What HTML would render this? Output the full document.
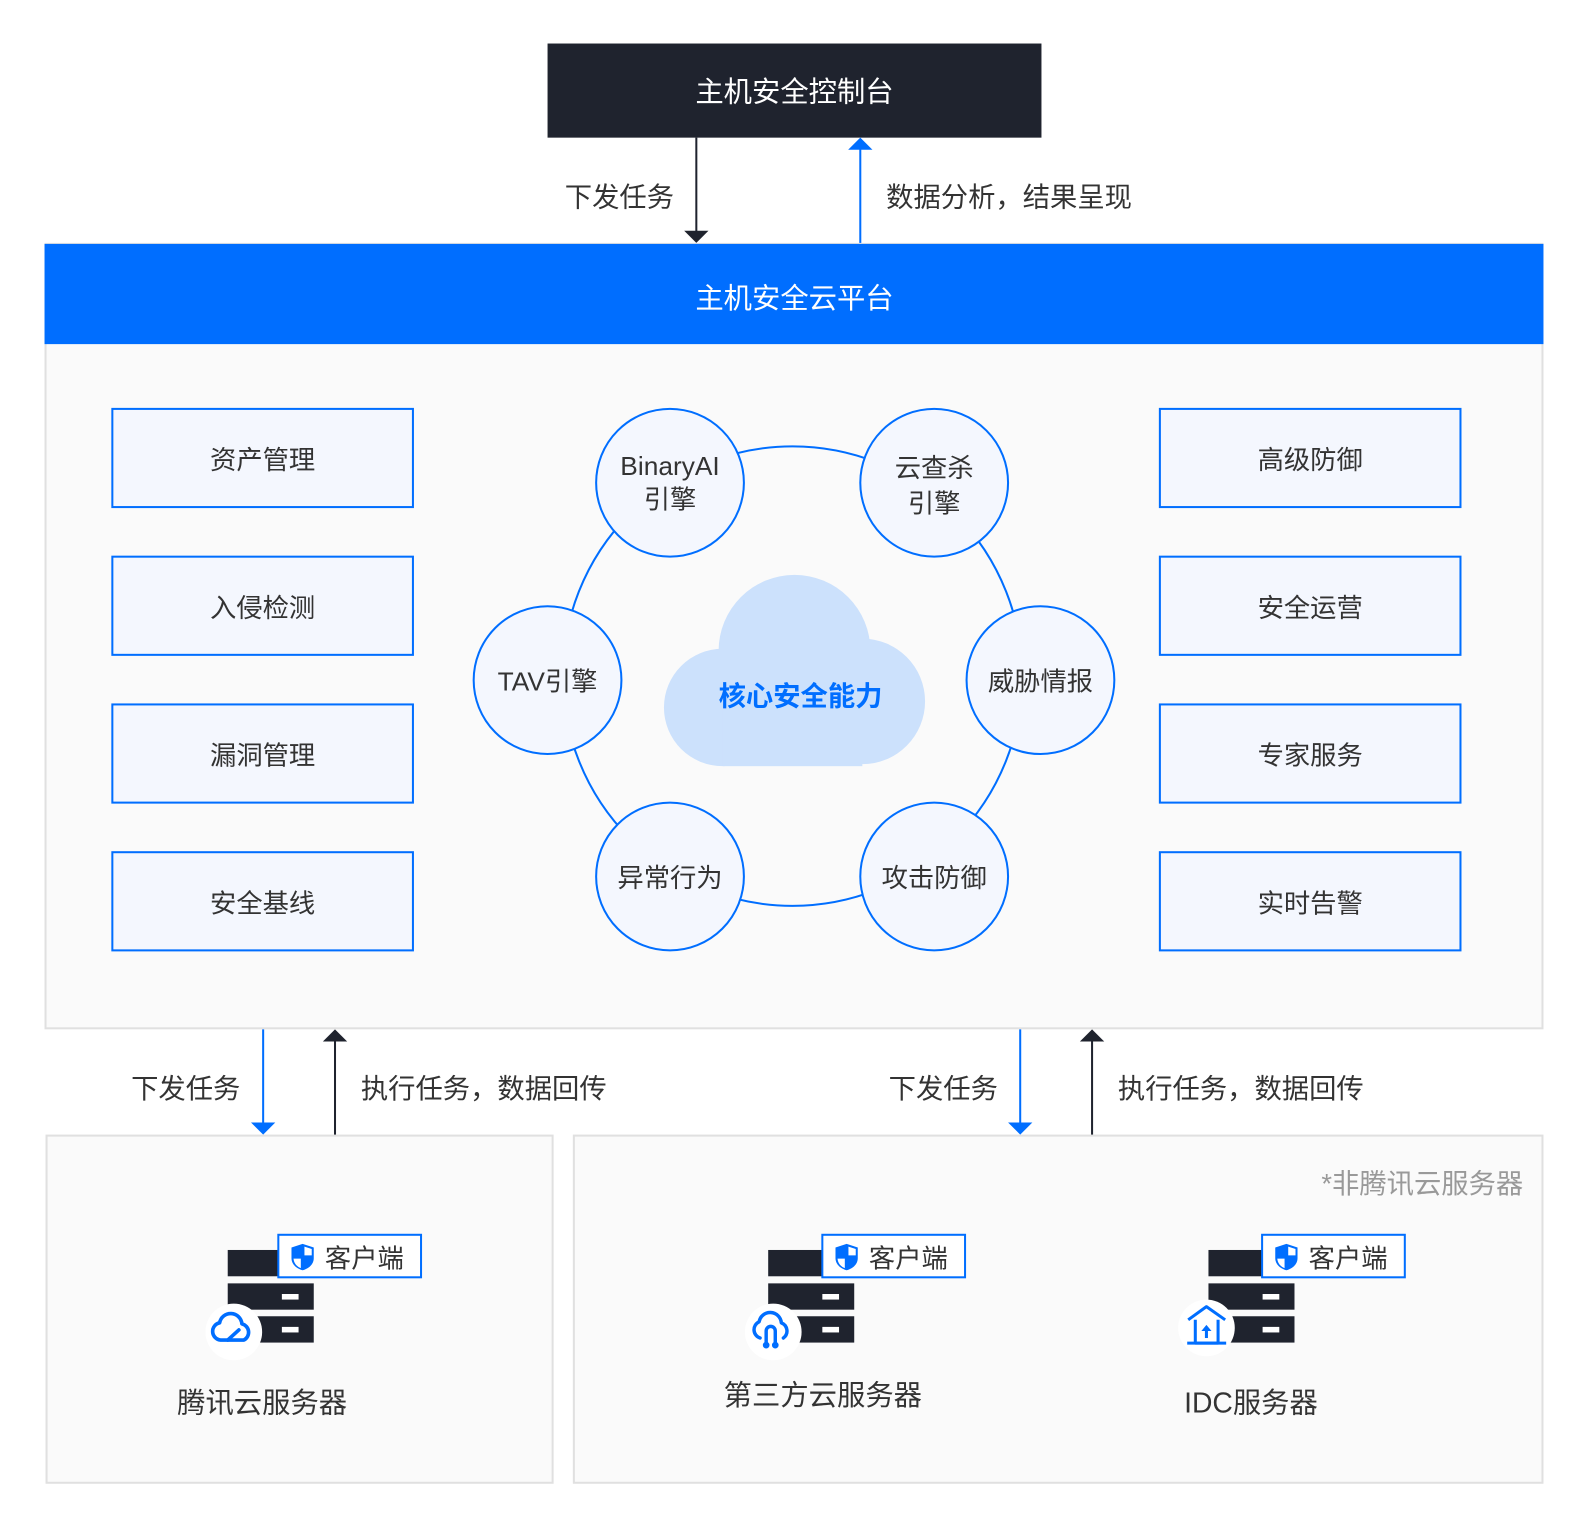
<!DOCTYPE html>
<html>
<head>
<meta charset="utf-8">
<style>
html,body{margin:0;padding:0;background:#fff;}
svg{display:block;}
text{font-family:"Liberation Sans","Noto Sans CJK SC",sans-serif;transform:translateY(1.5px);}
</style>
</head>
<body>
<svg width="1588" height="1528" viewBox="0 0 1569 1509.7" preserveAspectRatio="none" xmlns="http://www.w3.org/2000/svg">
<defs>
  <g id="shield">
    <path d="M0,-13 L11,-9.5 V1 C11,7.5 5.5,11.5 0,13 C-5.5,11.5 -11,7.5 -11,1 V-9.5 Z" fill="#006eff"/>
    <path d="M1.8,-10.3 L9,-7.9 V-1.6 H1.8 Z" fill="#fff"/>
    <path d="M-1.8,1.6 H-9 C-8.6,6.5 -5.5,9.6 -1.8,10.9 Z" fill="#fff"/>
  </g>
</defs>

<!-- top console -->
<rect x="541" y="43" width="488" height="93" fill="#1f232e"/>
<text x="785" y="90" font-size="28" fill="#fff" text-anchor="middle" dominant-baseline="central">主机安全控制台</text>

<!-- top arrows -->
<line x1="688" y1="136" x2="688" y2="229" stroke="#1f232e" stroke-width="2"/>
<polygon points="676,228 700,228 688,240" fill="#1f232e"/>
<line x1="850" y1="147" x2="850" y2="241" stroke="#006eff" stroke-width="2"/>
<polygon points="838,148 862,148 850,136" fill="#006eff"/>
<text x="612" y="193" font-size="27" fill="#333" text-anchor="middle" dominant-baseline="central">下发任务</text>
<text x="997" y="193" font-size="27" fill="#333" text-anchor="middle" dominant-baseline="central">数据分析，结果呈现</text>

<!-- platform -->
<rect x="45" y="241" width="1479" height="775" fill="#fafafa" stroke="#e0e0e0" stroke-width="2"/>
<rect x="44" y="241" width="1481" height="99" fill="#006eff"/>
<text x="785" y="294" font-size="28" fill="#fff" text-anchor="middle" dominant-baseline="central">主机安全云平台</text>

<!-- side boxes -->
<g fill="#f4f7fe" stroke="#006eff" stroke-width="2">
  <rect x="111" y="404" width="297" height="97"/>
  <rect x="111" y="550" width="297" height="97"/>
  <rect x="111" y="696" width="297" height="97"/>
  <rect x="111" y="842" width="297" height="97"/>
  <rect x="1146" y="404" width="297" height="97"/>
  <rect x="1146" y="550" width="297" height="97"/>
  <rect x="1146" y="696" width="297" height="97"/>
  <rect x="1146" y="842" width="297" height="97"/>
</g>
<g font-size="26" fill="#333" text-anchor="middle" dominant-baseline="central">
  <text x="259.5" y="453">资产管理</text>
  <text x="259.5" y="599">入侵检测</text>
  <text x="259.5" y="745">漏洞管理</text>
  <text x="259.5" y="891">安全基线</text>
  <text x="1294.5" y="453">高级防御</text>
  <text x="1294.5" y="599">安全运营</text>
  <text x="1294.5" y="745">专家服务</text>
  <text x="1294.5" y="891">实时告警</text>
</g>

<!-- ring -->
<circle cx="783" cy="668" r="227" fill="none" stroke="#006eff" stroke-width="2"/>

<!-- cloud -->
<g fill="#cce1fc">
  <circle cx="714" cy="699" r="58"/>
  <circle cx="785" cy="643" r="75"/>
  <circle cx="852" cy="693" r="62"/>
  <rect x="714" y="690" width="138" height="67"/>
</g>
<text x="791" y="686" font-size="27" font-weight="bold" fill="#006eff" text-anchor="middle" dominant-baseline="central">核心安全能力</text>

<!-- small circles -->
<g fill="#f4f7fe" stroke="#006eff" stroke-width="2">
  <circle cx="662" cy="477" r="73"/>
  <circle cx="923" cy="477" r="73"/>
  <circle cx="541" cy="672" r="73"/>
  <circle cx="1028" cy="672" r="73"/>
  <circle cx="662" cy="866" r="73"/>
  <circle cx="923" cy="866" r="73"/>
</g>
<g font-size="26" fill="#333" text-anchor="middle" dominant-baseline="central">
  <text x="662" y="459">BinaryAI</text>
  <text x="662" y="492">引擎</text>
  <text x="923" y="461">云查杀</text>
  <text x="923" y="496">引擎</text>
  <text x="541" y="672">TAV引擎</text>
  <text x="1028" y="672">威胁情报</text>
  <text x="662" y="866">异常行为</text>
  <text x="923" y="866">攻击防御</text>
</g>

<!-- bottom arrows -->
<line x1="260" y1="1017" x2="260" y2="1110" stroke="#006eff" stroke-width="2"/>
<polygon points="248,1109 272,1109 260,1121" fill="#006eff"/>
<line x1="331" y1="1028" x2="331" y2="1122" stroke="#1f232e" stroke-width="2"/>
<polygon points="319,1029 343,1029 331,1017" fill="#1f232e"/>
<line x1="1008" y1="1017" x2="1008" y2="1110" stroke="#006eff" stroke-width="2"/>
<polygon points="996,1109 1020,1109 1008,1121" fill="#006eff"/>
<line x1="1079" y1="1028" x2="1079" y2="1122" stroke="#1f232e" stroke-width="2"/>
<polygon points="1067,1029 1091,1029 1079,1017" fill="#1f232e"/>
<g font-size="27" fill="#333" text-anchor="middle" dominant-baseline="central">
  <text x="183.5" y="1074">下发任务</text>
  <text x="478" y="1074">执行任务，数据回传</text>
  <text x="932" y="1074">下发任务</text>
  <text x="1226" y="1074">执行任务，数据回传</text>
</g>

<!-- bottom boxes -->
<rect x="46" y="1122" width="500" height="343" fill="#fafafa" stroke="#e0e0e0" stroke-width="2"/>
<rect x="567" y="1122" width="957" height="343" fill="#fafafa" stroke="#e0e0e0" stroke-width="2"/>
<text x="1505" y="1168" font-size="27" fill="#999" text-anchor="end" dominant-baseline="central">*非腾讯云服务器</text>

<!-- server 1 -->
<g>
  <rect x="225" y="1235" width="85" height="26" fill="#1f232e"/>
  <rect x="225" y="1268" width="85" height="26" fill="#1f232e"/>
  <rect x="225" y="1300.5" width="85" height="26" fill="#1f232e"/>
  <rect x="278.5" y="1278.5" width="16.5" height="5.5" fill="#fff"/>
  <rect x="278.5" y="1311" width="16.5" height="5.5" fill="#fff"/>
  <rect x="275" y="1220" width="141" height="42" fill="#fff" stroke="#006eff" stroke-width="2"/>
  <use href="#shield" x="299" y="1242"/>
  <text x="360" y="1242" font-size="26" fill="#333" text-anchor="middle" dominant-baseline="central">客户端</text>
  <circle cx="231" cy="1316" r="28" fill="#fff"/>
  <g transform="translate(229,1313)" fill="none" stroke="#006eff" stroke-width="3.6" stroke-linejoin="round" stroke-linecap="round">
    <path d="M-11,11 A8.6,8.6 0 0 1 -12,-6 A11.1,11.1 0 0 1 10,-5 A8.6,8.6 0 0 1 12,11 Z"/>
    <path d="M-4,11 L7,1"/>
  </g>
  <text x="259" y="1385" font-size="28" fill="#333" text-anchor="middle" dominant-baseline="central">腾讯云服务器</text>
</g>

<!-- server 2 -->
<g>
  <rect x="759" y="1235" width="85" height="26" fill="#1f232e"/>
  <rect x="759" y="1268" width="85" height="26" fill="#1f232e"/>
  <rect x="759" y="1300.5" width="85" height="26" fill="#1f232e"/>
  <rect x="812.5" y="1278.5" width="16.5" height="5.5" fill="#fff"/>
  <rect x="812.5" y="1311" width="16.5" height="5.5" fill="#fff"/>
  <rect x="812.5" y="1220" width="141" height="42" fill="#fff" stroke="#006eff" stroke-width="2"/>
  <use href="#shield" x="836.5" y="1242"/>
  <text x="897.5" y="1242" font-size="26" fill="#333" text-anchor="middle" dominant-baseline="central">客户端</text>
  <circle cx="764" cy="1316" r="28" fill="#fff"/>
  <g transform="translate(762,1312)" fill="none" stroke="#006eff" stroke-width="3.4" stroke-linejoin="round" stroke-linecap="round">
    <path d="M-11,10 A8.6,8.6 0 0 1 -12,-6 A11.1,11.1 0 0 1 10,-5 A8.6,8.6 0 0 1 12,10"/>
    <path d="M-5,15 V3 A4.5,4.5 0 0 1 4,3 V15"/>
    <circle cx="-5" cy="17" r="1.6"/>
    <circle cx="4" cy="17" r="1.6"/>
  </g>
  <text x="813" y="1378" font-size="28" fill="#333" text-anchor="middle" dominant-baseline="central">第三方云服务器</text>
</g>

<!-- server 3 -->
<g>
  <rect x="1194" y="1235" width="85" height="26" fill="#1f232e"/>
  <rect x="1194" y="1268" width="85" height="26" fill="#1f232e"/>
  <rect x="1194" y="1300.5" width="85" height="26" fill="#1f232e"/>
  <rect x="1247.5" y="1278.5" width="16.5" height="5.5" fill="#fff"/>
  <rect x="1247.5" y="1311" width="16.5" height="5.5" fill="#fff"/>
  <rect x="1247" y="1220" width="141" height="42" fill="#fff" stroke="#006eff" stroke-width="2"/>
  <use href="#shield" x="1271" y="1242"/>
  <text x="1332" y="1242" font-size="26" fill="#333" text-anchor="middle" dominant-baseline="central">客户端</text>
  <circle cx="1192" cy="1312" r="28" fill="#fff"/>
  <g fill="none" stroke="#006eff" stroke-width="3" stroke-linejoin="round">
    <polyline points="1174,1304 1192,1291 1210.5,1304"/>
    <polyline points="1181,1304 1181,1327 1203.5,1327 1203.5,1304"/>
    <line x1="1173" y1="1327" x2="1211.5" y2="1327"/>
    <line x1="1192" y1="1313" x2="1192" y2="1322"/>
  </g>
  <polygon points="1187,1315 1197,1315 1192,1309" fill="#006eff"/>
  <text x="1236" y="1385" font-size="28" fill="#333" text-anchor="middle" dominant-baseline="central">IDC服务器</text>
</g>
</svg>
</body>
</html>
